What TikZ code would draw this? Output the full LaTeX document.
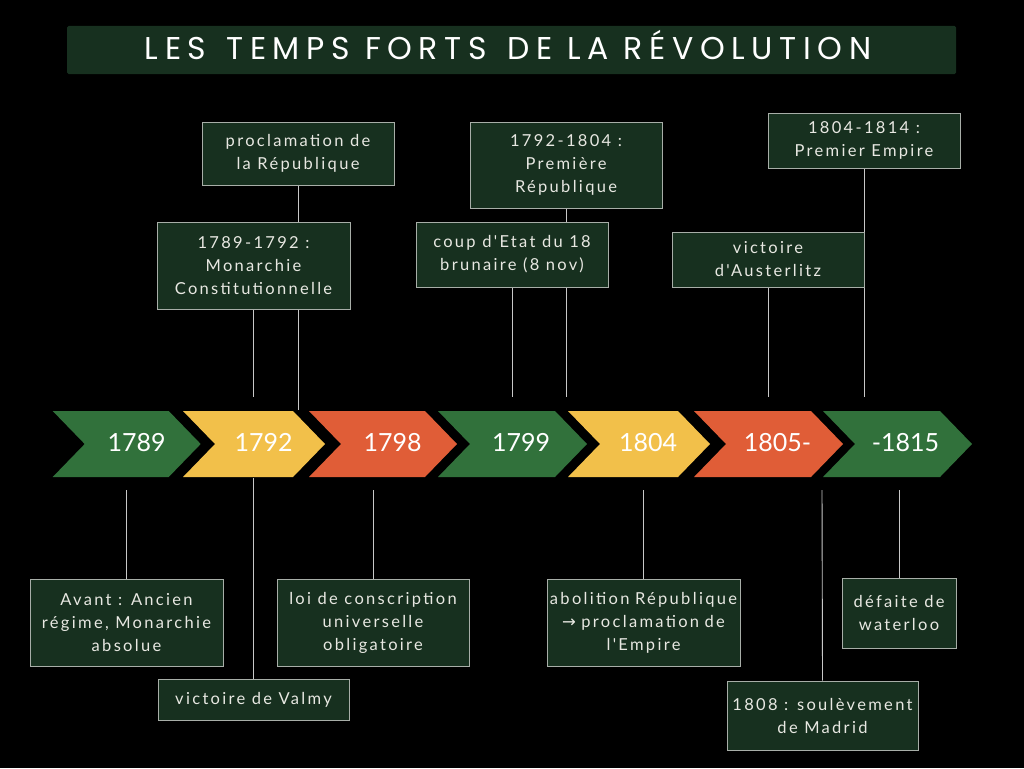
\documentclass[tikz,border=0pt]{standalone}
\usepackage{fontspec}
\setmainfont{Lato}
\newfontfamily\bodyfont[LetterSpace=14]{Lato}
\newfontfamily\titlefont[LetterSpace=21]{Poppins}
\newfontfamily\yearfont{Lato}
\newfontfamily\symfont{DejaVu Sans}
\definecolor{bg}{HTML}{000000}
\definecolor{boxfill}{HTML}{17301F}
\definecolor{boxline}{HTML}{A8AEA8}
\definecolor{txt}{HTML}{E8E8E2}
\definecolor{conn}{HTML}{C8C8C8}
\definecolor{cgreen}{HTML}{31713B}
\definecolor{cyellow}{HTML}{F2C04A}
\definecolor{corange}{HTML}{E05D37}
\pgfdeclarelayer{bglayer}
\pgfdeclarelayer{linelayer}
\pgfsetlayers{bglayer,linelayer,main}
\tikzset{
  evbox/.style={draw=boxline, fill=boxfill, line width=0.8pt, inner sep=0pt,
    align=center, text=txt, font=\bodyfont\fontsize{16.5}{23}\selectfont},
  conline/.style={draw=conn, line width=0.9pt},
  yearlbl/.style={text=white, font=\yearfont\fontsize{25}{30}\selectfont, inner sep=0pt, anchor=base},
}
\newcommand{\chev}[3]{% x, total width, colour
  \fill[#3] (#1,411) -- ({#1+#2-32},411) -- ({#1+#2},444) -- ({#1+#2-32},477)
    -- (#1,477) -- ({#1+32},444) -- cycle;}
\begin{document}
\begin{tikzpicture}[x=1pt,y=-1pt]
\begin{pgfonlayer}{bglayer}
\fill[bg] (0,0) rectangle (1024,768);
\chev{52.7}{148}{cgreen}
\chev{183}{142}{cyellow}
\chev{309}{148}{corange}
\chev{438}{149}{cgreen}
\chev{568}{142}{cyellow}
\chev{694}{149}{corange}
\chev{823}{149}{cgreen}
\end{pgfonlayer}
\useasboundingbox (0,0) rectangle (1024,768);
% title
\node[fill=boxfill, minimum width=889pt, minimum height=48pt, inner sep=0pt,
  rounded corners=1.5pt] (title) at (511.5,50) {};
\node[text=white, inner sep=0pt, anchor=base, font=\titlefont\fontsize{31.5}{34}\selectfont]
  (titletext) at (508,59.5) {LES\ \,TEMPS FORTS\ \,DE LA RÉVOLUTION};
% year labels
\node[yearlbl] (y1) at (136.5,451) {1789};
\node[yearlbl] (y2) at (263.5,451) {1792};
\node[yearlbl] (y3) at (392.5,451) {1798};
\node[yearlbl] (y4) at (521,451) {1799};
\node[yearlbl] (y5) at (648,451) {1804};
\node[yearlbl] (y6) at (777.5,451) {1805-};
\node[yearlbl] (y7) at (905.5,451) {-1815};
% top boxes
\node[evbox, minimum width=192pt, minimum height=63pt] (procl) at (298,153.5) {proclamation de\\la République};
\node[evbox, minimum width=193pt, minimum height=87pt] (monar) at (253.5,265.5) {1789-1792 :\\Monarchie\\Constitutionnelle};
\node[evbox, minimum width=192pt, minimum height=86pt] (repub) at (566,165) {1792-1804 :\\Première\\République};
\node[evbox, minimum width=192pt, minimum height=65pt] (coup) at (512,254.5) {coup d'Etat du 18\\brunaire (8 nov)};
\node[evbox, minimum width=192pt, minimum height=55pt] (empire) at (864,140.5) {1804-1814 :\\Premier Empire};
\node[evbox, minimum width=192pt, minimum height=55pt] (aust) at (768,259.5) {victoire\\d'Austerlitz};
% bottom boxes
\node[evbox, minimum width=193pt, minimum height=87pt] (avant) at (126.5,622.5) {Avant : Ancien\\régime, Monarchie\\absolue};
\node[evbox, minimum width=192pt, minimum height=87pt] (loi) at (373,622.5) {loi de conscription\\universelle\\obligatoire};
\node[evbox, minimum width=191pt, minimum height=41pt] (valmy) at (253.5,699.5) {victoire de Valmy};
\node[evbox, text width=193pt, minimum height=87pt] (abol) at (643.5,622.5) {abolition République\\{\symfont →} proclamation de\\l'Empire};
\node[evbox, minimum width=114pt, minimum height=70pt] (water) at (899,613) {défaite de\\waterloo};
\node[evbox, minimum width=191pt, minimum height=69pt] (madrid) at (822.5,715.5) {1808 : soulèvement\\de Madrid};
% connector ends
\coordinate (eprocl) at (298,410);
\coordinate (emonar) at (253.5,397);
\coordinate (erepub) at (566,397);
\coordinate (ecoup) at (512,397);
\coordinate (eempire) at (864,397);
\coordinate (eaust) at (768,397);
\coordinate (savant) at (126.5,490);
\coordinate (sloi) at (373,490);
\coordinate (svalmy) at (253.5,478);
\coordinate (sabol) at (643.5,490);
\coordinate (swater) at (899,490);
\coordinate (smadrid) at (822,490);
\begin{pgfonlayer}{linelayer}
\draw[conline] (procl.south) -- (eprocl);
\draw[conline] (monar.south) -- (emonar);
\draw[conline] (repub.south) -- (erepub);
\draw[conline] (coup.south) -- (ecoup);
\draw[conline] (empire.south) -- (eempire);
\draw[conline] (aust.south) -- (eaust);
\draw[conline] (savant) -- (avant.north);
\draw[conline] (sloi) -- (loi.north);
\draw[conline] (svalmy) -- (valmy.north);
\draw[conline] (sabol) -- (abol.north);
\draw[conline] (swater) -- (water.north);
\draw[conline] (smadrid) -- (madrid.north);
\end{pgfonlayer}
\end{tikzpicture}
\end{document}
